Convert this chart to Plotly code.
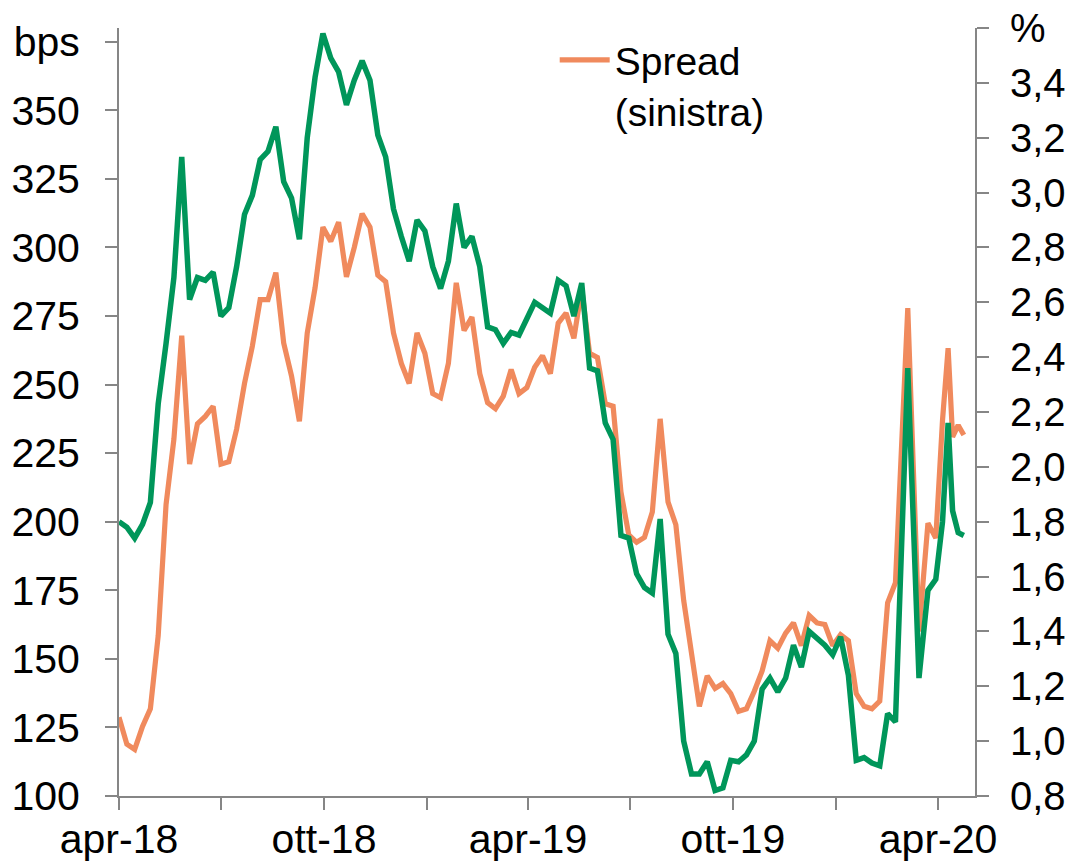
import pandas as pd
import plotly.graph_objects as go

# ---- data ----
weekly_dates = list(pd.date_range("2018-04-02", periods=100, freq="7D").strftime("%Y-%m-%d"))
tail_dates = ["2020-03-06", "2020-03-16", "2020-03-24", "2020-03-31", "2020-04-06",
              "2020-04-11", "2020-04-15", "2020-04-20", "2020-04-25"]
dates = weekly_dates + tail_dates

spread_bps = [
    128.7, 118.9, 117.0, 125.4, 131.8, 158.5, 206.3, 230.1, 267.8, 221.0,
    235.7, 238.4, 242.1, 221.0, 221.9, 233.8, 250.4, 264.0, 281.0, 281.0,
    290.8, 265.1, 253.1, 236.6, 268.8, 285.3, 307.4, 302.2, 309.2, 289.3,
    300.0, 312.3, 307.4, 289.9, 287.5, 268.8, 257.7, 250.4, 268.8, 261.4,
    246.7, 245.2, 257.7, 287.1, 269.7, 274.6, 254.0, 243.4, 241.2, 245.8,
    255.5, 246.7, 248.9, 256.3, 260.5, 254.0, 272.4, 276.1, 266.9, 285.0,
    261.4, 259.9, 243.0, 242.1, 210.8, 195.2, 192.5, 194.3, 203.5, 237.5,
    207.2, 198.9, 171.3, 152.5, 132.7, 143.8, 139.2, 141.0, 137.3, 130.9,
    131.8, 138.2, 145.6, 156.6, 153.9, 159.4, 163.1, 154.8, 165.8, 163.1,
    162.5, 154.8, 158.8, 156.6, 137.3, 132.7, 131.8, 134.6, 170.4, 177.8,
    277.9, 160.0, 199.5, 194.0, 237.0, 263.3, 230.9, 235.2, 231.6,
]

yield_pct = [
    1.80, 1.78, 1.74, 1.79, 1.87, 2.23, 2.45, 2.69, 3.13, 2.61,
    2.69, 2.68, 2.71, 2.55, 2.58, 2.73, 2.92, 2.99, 3.12, 3.15,
    3.24, 3.04, 2.98, 2.83, 3.20, 3.42, 3.58, 3.49, 3.44, 3.32,
    3.41, 3.48, 3.41, 3.21, 3.13, 2.94, 2.84, 2.75, 2.90, 2.86,
    2.73, 2.65, 2.75, 2.96, 2.80, 2.84, 2.73, 2.51, 2.50, 2.45,
    2.49, 2.48, 2.54, 2.60, 2.58, 2.56, 2.68, 2.66, 2.55, 2.67,
    2.36, 2.35, 2.16, 2.10, 1.75, 1.74, 1.61, 1.56, 1.54, 1.81,
    1.39, 1.32, 1.00, 0.88, 0.88, 0.925, 0.82, 0.83, 0.93, 0.925,
    0.95, 1.00, 1.19, 1.23, 1.18, 1.23, 1.35, 1.27, 1.40, 1.375,
    1.35, 1.315, 1.38, 1.24, 0.93, 0.94, 0.92, 0.91, 1.10, 1.07,
    2.36, 1.23, 1.55, 1.59, 1.80, 2.16, 1.84, 1.76, 1.75,
]

x_tick_dates = ["2018-04-02", "2018-07-02", "2018-10-02", "2019-01-02", "2019-04-02",
                "2019-07-02", "2019-10-02", "2020-01-02", "2020-04-02"]
x_tick_labels = ["apr-18", "", "ott-18", "", "apr-19", "", "ott-19", "", "apr-20"]

left_ticks = [100, 125, 150, 175, 200, 225, 250, 275, 300, 325, 350, 375]
left_labels = [str(v) for v in left_ticks[:-1]] + ["bps"]
right_ticks = [0.8, 1.0, 1.2, 1.4, 1.6, 1.8, 2.0, 2.2, 2.4, 2.6, 2.8, 3.0, 3.2, 3.4, 3.6]
right_labels = [f"{v:.1f}".replace(".", ",") for v in right_ticks[:-1]] + ["%"]

ORANGE = "#F08A5D"
GREEN = "#00965A"
AXIS = "#868686"
FONT = "Liberation Sans, Arial, sans-serif"

fig = go.Figure()
fig.add_trace(go.Scatter(x=dates, y=spread_bps, mode="lines", name="Spread<br>(sinistra)",
                         line=dict(color=ORANGE, width=5.2), yaxis="y"))
fig.add_trace(go.Scatter(x=dates, y=yield_pct, mode="lines", name="Rendimento",
                         line=dict(color=GREEN, width=5.5), yaxis="y2", showlegend=False))

# the page body adds an 8px offset, so the figure is 8px smaller and shifted margins
fig.update_layout(
    width=1066, height=858,
    margin=dict(l=111, r=99, t=20, b=70, autoexpand=False),
    paper_bgcolor="white", plot_bgcolor="white",
    font=dict(family=FONT, size=41, color="black"),
    showlegend=True,
    legend=dict(x=0.509, y=1.0, xanchor="left", yanchor="top", bgcolor="rgba(0,0,0,0)",
                font=dict(size=39), valign="top", tracegroupgap=0, itemwidth=50),
    xaxis=dict(type="date", range=["2018-04-02", "2020-05-05"], automargin=False,
               tickvals=x_tick_dates, ticktext=x_tick_labels,
               showline=True, linecolor=AXIS, linewidth=2,
               ticks="outside", ticklen=12, tickwidth=2, tickcolor=AXIS,
               ticklabelstandoff=-6, ticklabeloverflow="allow",
               showgrid=False, zeroline=False),
    yaxis=dict(range=[100, 380], tickvals=left_ticks, ticktext=left_labels, automargin=False,
               showline=True, linecolor=AXIS, linewidth=2,
               ticks="outside", ticklen=12, tickwidth=2, tickcolor=AXIS,
               ticklabelstandoff=17, ticklabeloverflow="allow",
               showgrid=False, zeroline=False),
    yaxis2=dict(range=[0.8, 3.6], tickvals=right_ticks, ticktext=right_labels, automargin=False,
                overlaying="y", side="right", anchor="x",
                showline=True, linecolor=AXIS, linewidth=2,
                ticks="outside", ticklen=12, tickwidth=2, tickcolor=AXIS,
                ticklabelstandoff=13, ticklabeloverflow="allow",
                tickfont=dict(size=40),
                showgrid=False, zeroline=False),
)

fig.write_html("out.html")
